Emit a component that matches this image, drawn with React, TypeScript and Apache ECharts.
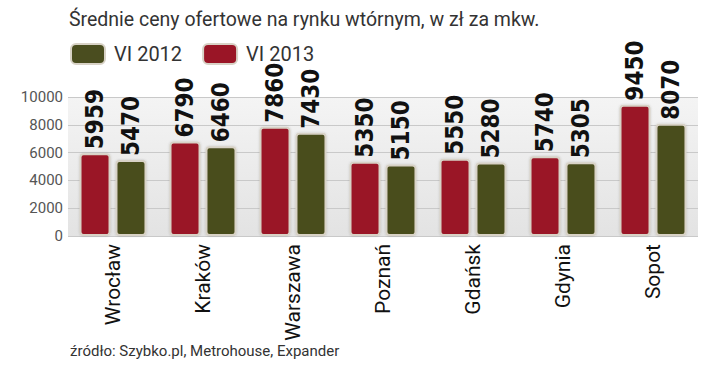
import React, { useEffect, useRef } from "react";
import * as echarts from "echarts";

const cities = ["Wrocław", "Kraków", "Warszawa", "Poznań", "Gdańsk", "Gdynia", "Sopot"];
const vi2013 = [5959, 6790, 7860, 5350, 5550, 5740, 9450];
const vi2012 = [5470, 6460, 7430, 5150, 5280, 5305, 8070];
const yMin = 0;
const yMax = 10000;
const yStep = 2000;
const titleText = "Średnie ceny ofertowe na rynku wtórnym, w zł za mkw.";
const sourceText = "źródło: Szybko.pl, Metrohouse, Expander";

const RED = "#9a1526";
const GREEN = "#4a4d1f";
const FONT = "Roboto, 'Open Sans', sans-serif";
const NARROW = "'DejaVu Sans Condensed', 'Liberation Sans Narrow', sans-serif";

export default function App() {
  const ref = useRef<HTMLDivElement>(null);
  useEffect(() => {
    if (!ref.current) return;
    const chart = echarts.init(ref.current, undefined, { renderer: "svg" });
    const barStyle = (color: string) => ({
      color,
      borderColor: "#d8d2c6",
      borderWidth: 2,
      borderRadius: 3,
      shadowColor: "rgba(0,0,0,0.18)",
      shadowBlur: 2,
    });
    const valueLabel = {
      show: true,
      position: "top",
      distance: 4,
      rotate: 90,
      align: "left",
      verticalAlign: "middle",
      fontFamily: NARROW,
      fontWeight: "bold",
      fontSize: 24,
      color: "#111",
    };
    chart.setOption({
      animation: false,
      backgroundColor: "#ffffff",
      title: {
        text: titleText,
        left: 69,
        top: 9,
        padding: 0,
        textStyle: { fontFamily: FONT, fontSize: 19.5, fontWeight: "normal", color: "#333" },
      },
      legend: {
        data: ["VI 2012", "VI 2013"],
        left: 70,
        top: 43,
        padding: 0,
        itemWidth: 34,
        itemHeight: 20,
        itemGap: 20,
        icon: "roundRect",
        textStyle: { fontFamily: FONT, fontSize: 20, color: "#333", padding: [0, 0, 0, 4] },
      },
      grid: {
        left: 68,
        right: 22,
        top: 97,
        bottom: 139,
        show: true,
        borderWidth: 0,
        backgroundColor: new echarts.graphic.LinearGradient(0, 0, 0, 1, [
          { offset: 0, color: "#f4f4f4" },
          { offset: 1, color: "#e3e3e3" },
        ]),
      },
      xAxis: {
        type: "category",
        data: cities,
        axisLine: { show: false },
        axisTick: { show: false },
        axisLabel: {
          rotate: 90,
          margin: 8,
          fontFamily: FONT,
          fontSize: 21,
          color: "#111",
          interval: 0,
        },
      },
      yAxis: {
        type: "value",
        min: yMin,
        max: yMax,
        interval: yStep,
        axisLine: { show: false },
        axisTick: { show: false },
        axisLabel: {
          margin: 5,
          fontFamily: FONT,
          fontSize: 15,
          color: "#555",
          formatter: (v: number) => String(v),
        },
        splitLine: { lineStyle: { color: "#c9c9c9", width: 1 } },
      },
      series: [
        {
          name: "VI 2013",
          type: "bar",
          data: vi2013,
          barWidth: 31,
          barGap: "16%",
          itemStyle: barStyle(RED),
          label: valueLabel,
        },
        {
          name: "VI 2012",
          type: "bar",
          data: vi2012,
          barWidth: 31,
          barGap: "16%",
          itemStyle: barStyle(GREEN),
          label: valueLabel,
        },
      ],
      graphic: [
        {
          type: "text",
          left: 70,
          top: 343,
          style: { text: sourceText, fontFamily: FONT, fontSize: 15, fill: "#333" },
        },
      ],
    });
    return () => chart.dispose();
  }, []);
  return <div ref={ref} style={{ width: 720, height: 375, position: "absolute", left: 0, top: 0 }} />;
}
